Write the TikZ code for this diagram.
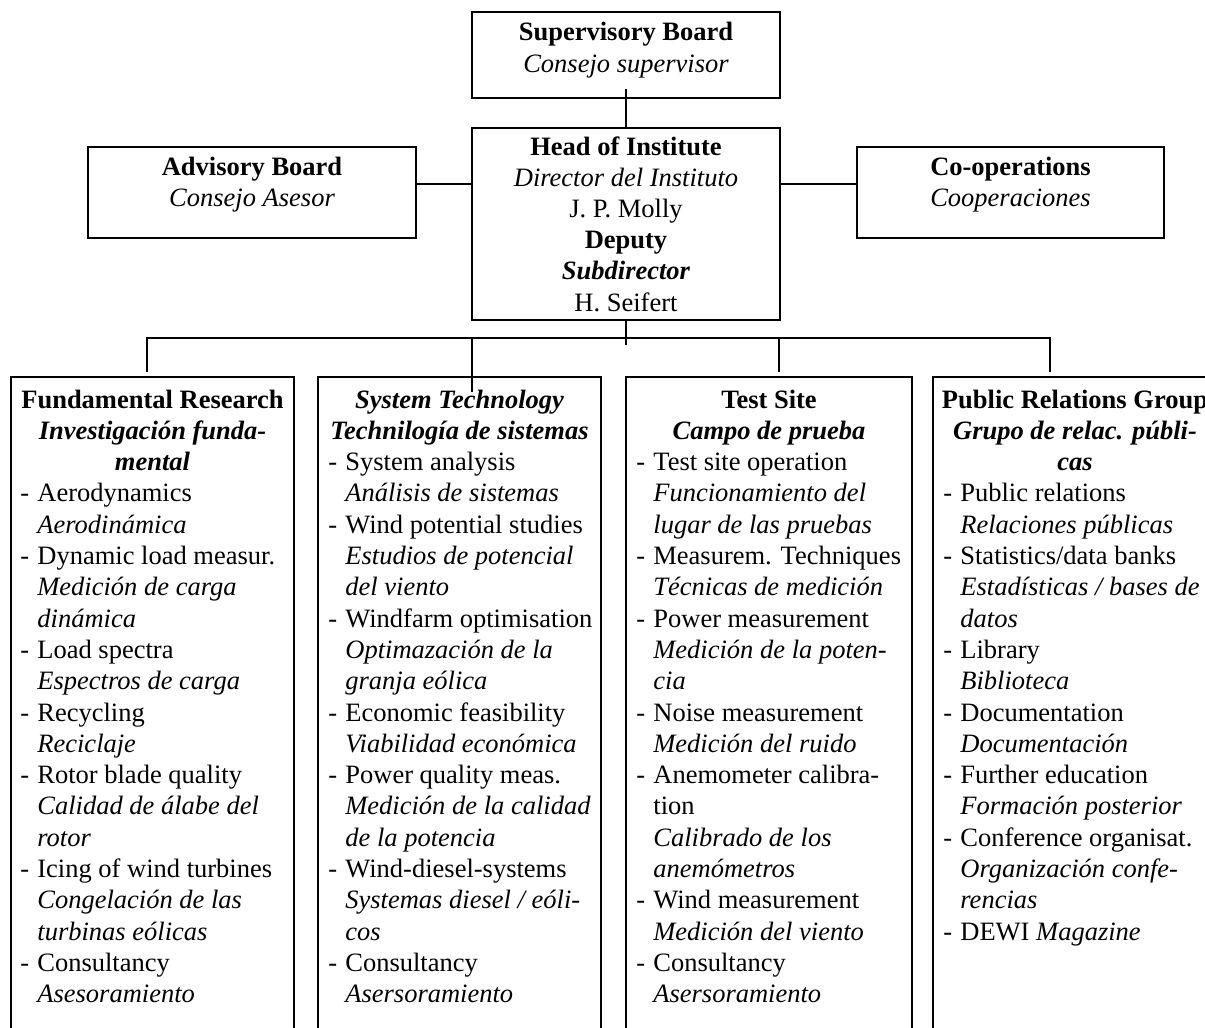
\documentclass[tikz,border=0pt]{standalone}
\usepackage{fontspec}
\setmainfont{Liberation Serif}
\newcounter{lnum}
\newcommand\fsz{\fontsize{13.25pt}{15.65pt}\selectfont}
\newcommand\BoxSetup[3]{\def\bp{#1}\def\bcx{#2}\def\bdx{#3}\setcounter{lnum}{0}}
\newcommand\LineYpos{408+(\thelnum-1)*31.3}
\newcommand\TitB[1]{\stepcounter{lnum}\node[txt,anchor=base] (\bp-\thelnum) at (\bcx,{\LineYpos}) {\bfseries #1};}
\newcommand\TitBI[1]{\stepcounter{lnum}\node[txt,anchor=base] (\bp-\thelnum) at (\bcx,{\LineYpos}) {\bfseries\itshape #1};}
\newcommand\ItemD[1]{\stepcounter{lnum}\node[txt,anchor=base west] (\bp-\thelnum) at (\bdx,{\LineYpos}) {\makebox[8.5pt][l]{-}#1};}
\newcommand\ItemI[1]{\stepcounter{lnum}\node[txt,anchor=base west] (\bp-\thelnum) at (\bdx,{\LineYpos}) {\hspace*{8.5pt}\itshape #1};}
\newcommand\ItemU[1]{\stepcounter{lnum}\node[txt,anchor=base west] (\bp-\thelnum) at (\bdx,{\LineYpos}) {\hspace*{8.5pt}#1};}
\begin{document}
\begin{tikzpicture}[x=0.5pt,y=-0.5pt,
  box/.style={draw, line width=1.2pt, inner sep=0},
  conn/.style={line width=1pt},
  sconn/.style={line width=0.8pt},
  txt/.style={inner sep=0, font=\fsz}]
\useasboundingbox (0,0) rectangle (1205,1028);
\fill[white] (0,0) rectangle (1205,1028);
\clip (0,0) rectangle (1205,1028);

% top boxes
\node[box, minimum width=154pt, minimum height=43pt] (sup) at (626,55) {};
\node[box, minimum width=154pt, minimum height=96pt] (head) at (626,224) {};
\node[box, minimum width=164pt, minimum height=45.5pt] (adv) at (252,192.5) {};
\node[box, minimum width=153.5pt, minimum height=45.5pt] (coop) at (1010.5,192.5) {};

% bottom boxes
\node[box, minimum width=141.5pt, minimum height=361.5pt] (fr) at (152.5,738.5) {};
\node[box, minimum width=141.5pt, minimum height=361.5pt] (st) at (459.5,738.5) {};
\node[box, minimum width=143pt, minimum height=361.5pt] (ts) at (769,738.5) {};
\node[box, minimum width=142pt, minimum height=361.5pt] (pr) at (1075,738.5) {};

% connectors
\draw[conn] ([yshift=5pt]sup.south) -- (head.north);
\draw[sconn] ([yshift=4.25pt]adv.east) -- ([yshift=4.25pt]adv.east -| head.west);
\draw[sconn] ([yshift=4.25pt]coop.west) -- ([yshift=4.25pt]coop.west -| head.east);
\coordinate (htick) at (626,345);
\coordinate (busL) at (147,338);
\coordinate (busR) at (1051,338);
\coordinate (d1) at (147,372);
\coordinate (b2) at (472,338);
\coordinate (d2) at (472,392);
\coordinate (b3) at (779,338);
\coordinate (d3) at (779,372);
\coordinate (d4) at (1050,372);
\draw[conn] (head.south) -- (htick);
\draw[conn] (d1) -- (busL) -- (busR);
\draw[conn] ([xshift=-0.5pt]busR) -- (d4);
\draw[conn] (b2) -- (d2);
\draw[conn] (b3) -- (d3);

% top texts
\node[txt,anchor=base] (sup-1) at (626,40) {\bfseries Supervisory Board};
\node[txt,anchor=base] (sup-2) at (626,72) {\itshape Consejo supervisor};
\node[txt,anchor=base] (adv-1) at (252,175) {\bfseries Advisory Board};
\node[txt,anchor=base] (adv-2) at (252,206) {\itshape Consejo Asesor};
\node[txt,anchor=base] (coop-1) at (1010.5,175) {\bfseries Co-operations};
\node[txt,anchor=base] (coop-2) at (1010.5,206) {\itshape Cooperaciones};
\node[txt,anchor=base] (head-1) at (626,155) {\bfseries Head of Institute};
\node[txt,anchor=base] (head-2) at (626,186.2) {\itshape Director del Instituto};
\node[txt,anchor=base] (head-3) at (626,217.4) {J. P. Molly};
\node[txt,anchor=base] (head-4) at (626,248.6) {\bfseries Deputy};
\node[txt,anchor=base] (head-5) at (626,279.8) {\bfseries\itshape Subdirector};
\node[txt,anchor=base] (head-6) at (626,311) {H. Seifert};

% Fundamental Research
\BoxSetup{frt}{152.5}{20}
\TitB{Fundamental Research}
\TitBI{Investigación funda-}
\TitBI{mental}
\ItemD{Aerodynamics}
\ItemI{Aerodinámica}
\ItemD{Dynamic load measur.}
\ItemI{Medición de carga}
\ItemI{dinámica}
\ItemD{Load spectra}
\ItemI{Espectros de carga}
\ItemD{Recycling}
\ItemI{Reciclaje}
\ItemD{Rotor blade quality}
\ItemI{Calidad de álabe del}
\ItemI{rotor}
\ItemD{Icing of wind turbines}
\ItemI{Congelación de las}
\ItemI{turbinas eólicas}
\ItemD{Consultancy}
\ItemI{Asesoramiento}

% System Technology
\BoxSetup{stt}{459.5}{328}
\TitBI{System Technology}
\TitBI{Technilogía de sistemas}
\ItemD{System analysis}
\ItemI{Análisis de sistemas}
\ItemD{Wind potential studies}
\ItemI{Estudios de potencial}
\ItemI{del viento}
\ItemD{Windfarm optimisation}
\ItemI{Optimazación de la}
\ItemI{granja eólica}
\ItemD{Economic feasibility}
\ItemI{Viabilidad económica}
\ItemD{Power quality meas.}
\ItemI{Medición de la calidad}
\ItemI{de la potencia}
\ItemD{Wind-diesel-systems}
\ItemI{Systemas diesel / eóli-}
\ItemI{cos}
\ItemD{Consultancy}
\ItemI{Asersoramiento}

% Test Site
\BoxSetup{tst}{769}{636}
\TitB{Test Site}
\TitBI{Campo de prueba}
\ItemD{Test site operation}
\ItemI{Funcionamiento del}
\ItemI{lugar de las pruebas}
\ItemD{Measurem. Techniques}
\ItemI{Técnicas de medición}
\ItemD{Power measurement}
\ItemI{Medición de la poten-}
\ItemI{cia}
\ItemD{Noise measurement}
\ItemI{Medición del ruido}
\ItemD{Anemometer calibra-}
\ItemU{tion}
\ItemI{Calibrado de los}
\ItemI{anemómetros}
\ItemD{Wind measurement}
\ItemI{Medición del viento}
\ItemD{Consultancy}
\ItemI{Asersoramiento}

% Public Relations Group
\BoxSetup{prt}{1075}{943}
\TitB{Public Relations Group}
\TitBI{Grupo de relac. públi-}
\TitBI{cas}
\ItemD{Public relations}
\ItemI{Relaciones públicas}
\ItemD{Statistics/data banks}
\ItemI{Estadísticas / bases de}
\ItemI{datos}
\ItemD{Library}
\ItemI{Biblioteca}
\ItemD{Documentation}
\ItemI{Documentación}
\ItemD{Further education}
\ItemI{Formación posterior}
\ItemD{Conference organisat.}
\ItemI{Organización confe-}
\ItemI{rencias}
\ItemD{DEWI \textit{Magazine}}
\end{tikzpicture}
\end{document}
